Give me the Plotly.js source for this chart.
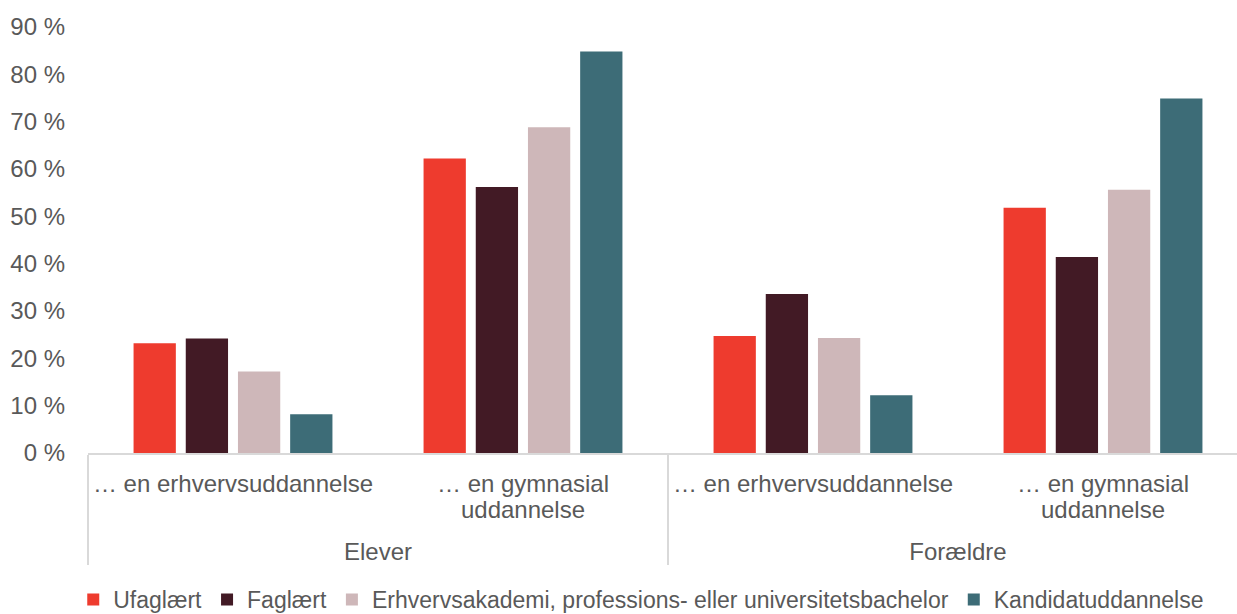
<!DOCTYPE html>
<html>
<head>
<meta charset="utf-8">
<script src="https://cdn.plot.ly/plotly-3.0.1.min.js"></script>
<style>
html,body{margin:0;padding:0;overflow:hidden;background:#fff;}
#chart{width:1250px;height:621px;}
</style>
</head>
<body>
<div id="chart"></div>
<script>
const outerCats = ["Elever", "Elever", "Forældre", "Forældre"];
const innerCats = ["… en erhvervsuddannelse", "… en gymnasial<br>uddannelse", "… en erhvervsuddannelse", "… en gymnasial<br>uddannelse"];
const seriesNames = ["Ufaglært", "Faglært", "Erhvervsakademi, professions- eller universitetsbachelor", "Kandidatuddannelse"];
const ufaglaert = [23.2, 62.2, 24.7, 51.8];
const faglaert = [24.2, 56.2, 33.6, 41.4];
const bachelor = [17.2, 68.8, 24.3, 55.6];
const kandidat = [8.2, 84.8, 12.2, 74.9];
const colors = ["#EE3B2E", "#421A25", "#CEB7B9", "#3D6C77"];
const yTicks = [0, 10, 20, 30, 40, 50, 60, 70, 80, 90];

const big = s => s.split("<br>").map(p => "<span style='font-size:24px'>" + p + "</span>").join("<br>");
const outerLabel = s => "\u00a0<br>" + big(s);

const values = [ufaglaert, faglaert, bachelor, kandidat];
const traces = values.map((v, i) => ({
  type: "bar",
  name: seriesNames[i],
  x: [outerCats.map(outerLabel), innerCats.map(big)],
  y: v,
  marker: {color: colors[i], line: {width: 0}},
  hoverinfo: "y+name"
}));

const layout = {
  width: 1250,
  height: 621,
  margin: {l: 88, r: 2, t: 27, b: 168},
  paper_bgcolor: "#fff",
  plot_bgcolor: "#fff",
  barmode: "group",
  bargap: 0.28,
  bargroupgap: 0.19,
  font: {family: "Liberation Sans, Arial, sans-serif", size: 24, color: "#595959"},
  xaxis: {
    type: "multicategory",
    automargin: false,
    showline: true,
    linecolor: "#D9D9D9",
    linewidth: 1.5,
    showgrid: false,
    ticks: "",
    showdividers: true,
    dividercolor: "#D9D9D9",
    dividerwidth: 1.5,
    ticklabelstandoff: 13,
    tickfont: {size: 20, color: "#595959"}
  },
  yaxis: {
    automargin: false,
    range: [0, 90],
    tickvals: yTicks,
    ticktext: yTicks.map(t => t + " %"),
    showgrid: false,
    zeroline: false,
    showline: false,
    ticks: "",
    ticklabelstandoff: 22,
    tickfont: {size: 24, color: "#595959"}
  },
  legend: {
    orientation: "h",
    xref: "container",
    yref: "container",
    x: 0.513,
    xanchor: "center",
    y: 0,
    yanchor: "bottom",
    font: {size: 23, color: "#595959"},
    itemwidth: 30,
    traceorder: "normal"
  },
  showlegend: true
};

Plotly.newPlot("chart", traces, layout, {displayModeBar: false, staticPlot: true});
</script>
</body>
</html>
